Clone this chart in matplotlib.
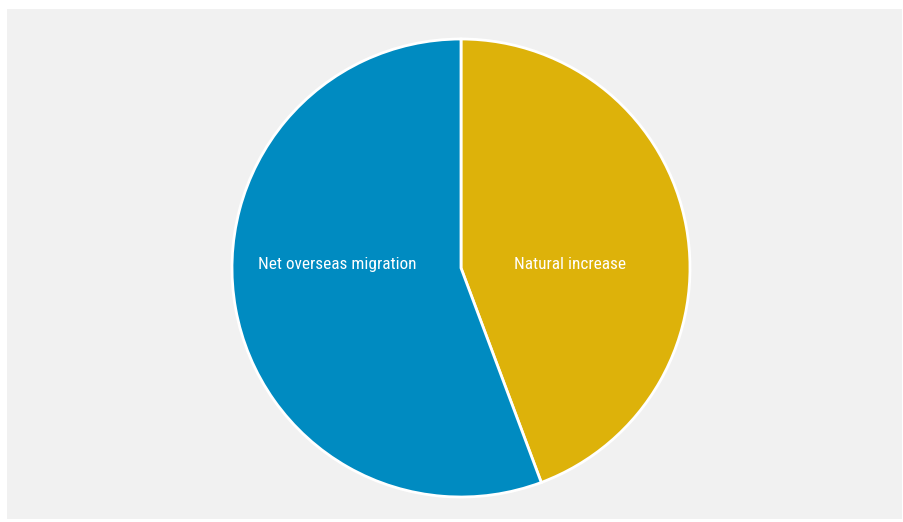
import matplotlib
matplotlib.use('Agg')
import matplotlib.pyplot as plt

categories = ['Natural increase', 'Net overseas migration']
shares = [44.3, 55.7]
colors = ['#ddb20a', '#008bc1']

W, H = 904, 522
fig = plt.figure(figsize=(W / 100, H / 100), dpi=100)
fig.patch.set_facecolor('white')

# grey panel behind the chart
bg = fig.add_axes([7 / W, 3 / H, 1 - 9 / W, 1 - 12 / H], zorder=-1)
bg.set_facecolor('#f1f1f1')
bg.set_xticks([])
bg.set_yticks([])
for s in bg.spines.values():
    s.set_visible(False)

# pie: centre (461, 268) px, radius ~229 px
cx, cy, r = 461, 268, 229
ax = fig.add_axes([(cx - r) / W, (H - cy - r) / H, 2 * r / W, 2 * r / H])
ax.set_facecolor('none')
wedges, _ = ax.pie(shares, colors=colors, startangle=90, counterclock=False,
                   wedgeprops=dict(edgecolor='white', linewidth=2))
ax.set_xlim(-1, 1)
ax.set_ylim(-1, 1)
ax.set_aspect('equal')
ax.axis('off')

font = ['Roboto Condensed', 'Liberation Sans Narrow', 'Roboto', 'DejaVu Sans']
ax.text(0.477, 0.015, categories[0], color='white', fontsize=12.4,
        ha='center', va='center', family=font)
ax.text(-0.54, 0.015, categories[1], color='white', fontsize=12.4,
        ha='center', va='center', family=font)

fig.savefig('out.png', dpi=100, facecolor=fig.get_facecolor())
